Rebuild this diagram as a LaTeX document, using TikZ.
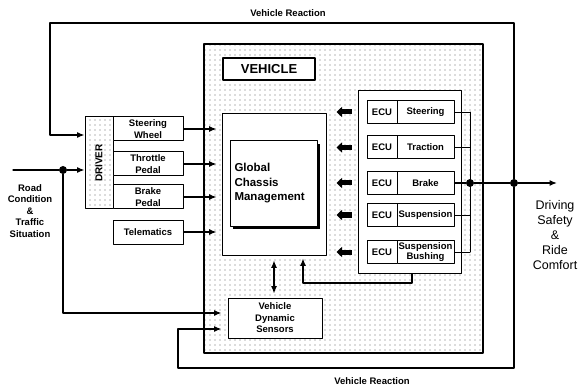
\documentclass[tikz,border=0pt]{standalone}
\usepackage{fontspec}
\setmainfont{Liberation Sans}
\usetikzlibrary{arrows.meta,patterns.meta}

\tikzdeclarepattern{
  name=sparsedots,
  type=uncolored,
  bottom left={(-1pt,-1pt)},
  top right={(1pt,1pt)},
  tile size={(5pt,5pt)},
  code={\tikzset{x=1pt,y=1pt}\fill (0,0) circle (0.55);}
}

\begin{document}
\begin{tikzpicture}[x=1pt,y=-1pt,line cap=round,line join=round,
    >={Latex[length=7.5pt,width=6pt]},
    font=\bfseries\fontsize{9.5}{12}\selectfont,
    blk/.style={draw,line width=1pt,fill=white,align=center,inner sep=0pt},
    dotfill/.style={pattern=sparsedots,pattern color=black!60},
    wire/.style={line width=1.2pt},
    flow/.style={line width=1.3pt,->},
    fat/.style={line width=5pt,line cap=butt,-{Triangle[length=5.5pt,width=10pt]}},
    hub/.style={circle,fill,inner sep=0pt,minimum size=8pt}]
  \useasboundingbox (0,0) rectangle (586,390);

  \node[draw,line width=1.8pt,dotfill,minimum width=279pt,minimum height=309pt] (veh) at (343.5,198.5) {};
  \node[blk,line width=1.2pt,minimum width=92pt,minimum height=22pt,font=\bfseries\fontsize{13}{15}\selectfont] (vlab) at (269,69) {VEHICLE};

  \node[draw,line width=1pt,dotfill,minimum width=28pt,minimum height=92pt] (drv) at (99,163) {};
  \node[rotate=90,font=\bfseries\fontsize{10}{12}\selectfont] (drvtxt) at (drv.center) {DRIVER};
  \node[blk,minimum width=70pt,minimum height=24pt] (stw) at (148,129) {Steering\\Wheel};
  \node[blk,minimum width=70pt,minimum height=24pt] (thr) at (148,164) {Throttle\\Pedal};
  \node[blk,minimum width=70pt,minimum height=24pt] (brk) at (148,197) {Brake\\Pedal};
  \node[blk,minimum width=70pt,minimum height=24pt] (tel) at (148,232) {Telematics};

  \node[draw,line width=0.8pt,fill=white,minimum width=104pt,minimum height=142pt] (gcmo) at (274,184) {};
  \node[fill,minimum width=87pt,minimum height=85pt,inner sep=0pt] (gcms) at (276.5,186.5) {};
  \node[blk,minimum width=87pt,minimum height=85pt,text width=78pt,align=left,
    font=\bfseries\fontsize{11.5}{14.5}\selectfont] (gcm) at (273.5,183.5) {Global\\Chassis\\Management};

  \node[draw,line width=1pt,fill=white,minimum width=103pt,minimum height=182pt] (ecuc) at (409.5,182) {};
  \foreach \y/\lab/\nm in {112/Steering/st,147.5/Traction/tr,183/Brake/br,215/Suspension/su,252/{Suspension\\[-1.5pt]Bushing}/sb}{
    \node[blk,minimum width=30pt,minimum height=23pt] (ecu\nm) at (382,\y) {ECU};
    \node[blk,minimum width=57pt,minimum height=23pt] (fn\nm) at (425.5,\y) {\lab};
    \draw[fat] ([xshift=-15pt]ecu\nm.west) -- ++(-15,0);
  }

  \node[blk,minimum width=94pt,minimum height=40pt] (sen) at (275,318) {Vehicle\\[-0.5pt]Dynamic\\[-0.5pt]Sensors};

  \draw[flow,shorten >=5pt] (stw.east) -- (gcmo.west |- stw.east);
  \draw[flow,shorten >=5pt] (thr.east) -- (gcmo.west |- thr.east);
  \draw[flow,shorten >=5pt] (brk.east) -- (gcmo.west |- brk.east);
  \draw[flow,shorten >=5pt] (tel.east) -- (gcmo.west |- tel.east);

  \coordinate (bustop) at (470,112);
  \draw[line width=0.9pt] (bustop) -- (bustop |- fnsb.east);
  \foreach \nm in {st,tr,su,sb}
    \draw[line width=0.9pt] (fn\nm.east) -- (fn\nm.east -| bustop);

  \coordinate (rin) at (13,170);
  \coordinate (tl) at (50,23);
  \coordinate (bl) at (178,368);
  \coordinate (fb) at (412,283);
  \coordinate (outend) at (557,183);
  \node[hub] (rdot) at (63,170) {};
  \node[hub] (bdot) at (470,183) {};
  \node[hub] (odot) at (514,183) {};

  \draw[flow] (rin) -- (rdot) -- (drv.west |- rdot);
  \draw[flow,shorten >=6pt] (rdot) |- ([yshift=5pt]sen.west);
  \draw[flow] (fnbr.east) -- (bdot) -- (odot) -- (outend);
  \draw[flow] (odot) |- (tl) |- ([yshift=28pt]drv.west);
  \draw[flow,shorten >=6pt] (odot) |- (bl) |- ([yshift=-11pt]sen.west);
  \draw[wire,->,shorten >=3pt] (ecuc.south -| fb) -- (fb) -| ([xshift=29pt]gcmo.south);
  \draw[wire,<->,shorten <=5pt,shorten >=4pt] (gcmo.south) -- (gcmo.south |- sen.north);

  \node (vrtop) at (288,13) {Vehicle Reaction};
  \node (vrbot) at (372,381) {Vehicle Reaction};
  \node[align=center,font=\bfseries\fontsize{9.5}{11.5}\selectfont] (road) at (30,211) {Road\\Condition\\\&\\Traffic\\Situation};
  \node[align=center,font=\fontsize{12.5}{15}\selectfont] (goal) at (555,235) {Driving\\Safety\\\&\\Ride\\Comfort};
\end{tikzpicture}
\end{document}
